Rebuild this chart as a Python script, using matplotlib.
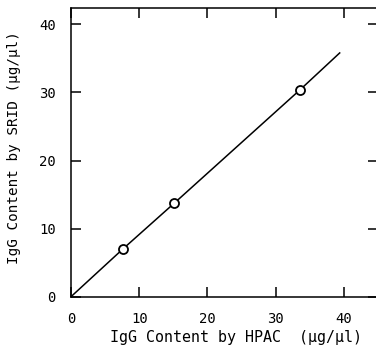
import matplotlib
matplotlib.use("Agg")
import matplotlib.pyplot as plt

hpac = [7.6, 15.1, 33.6]
srid = [7.0, 13.7, 30.4]
line_x = [0, 7.6, 15.1, 33.6, 39.4]
line_y = [0, 7.0, 13.7, 30.4, 35.8]
ticks = [0, 10, 20, 30, 40]

plt.rcParams['font.family'] = ['DejaVu Sans Mono']
fig = plt.figure(figsize=(3.76, 3.51), dpi=100)
ax = fig.add_axes([71/376, (351-296.7)/351, 1.005 - 71/376, (296.7-8)/351])
ax.plot(line_x, line_y, color='black', lw=1.1)
ax.plot(hpac, srid, 'o', mfc='white', mec='black', ms=6.5, mew=1.3)
ax.set_xlim(0, 45)
ax.set_ylim(0, 42.4)
ax.set_xticks(ticks)
ax.set_yticks(ticks)
ax.tick_params(direction='in', length=7.5, width=1.1, top=True, right=True,
               labelsize=10, pad=11)
for s in ax.spines.values():
    s.set_linewidth(1.1)
xl = ax.set_xlabel('IgG Content by HPAC  (µg/µl)', fontsize=10.8)
yl = ax.set_ylabel('IgG Content by SRID (µg/µl)', fontsize=10.3)
ax.xaxis.set_label_coords(0.537, -0.143)
ax.yaxis.set_label_coords(-0.187, 0.517)
xl.set_va('center')
yl.set_va('center')
fig.savefig('out.png', dpi=100)
